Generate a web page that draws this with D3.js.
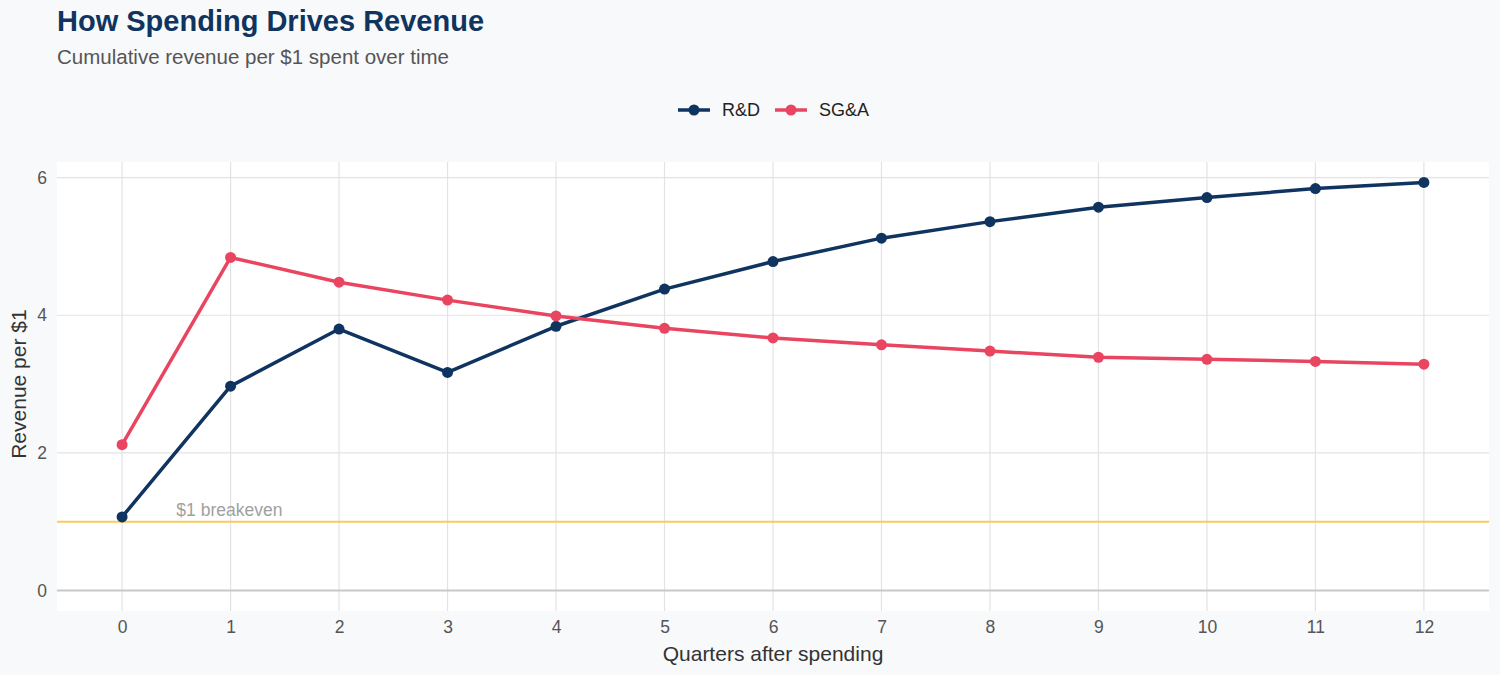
<!DOCTYPE html>
<html>
<head>
<meta charset="utf-8">
<script src="https://cdn.jsdelivr.net/npm/d3@7"></script>
<style>
  body { margin: 0; background: #f8f9fb; font-family: "Liberation Sans", Arial, sans-serif; }
</style>
</head>
<body>
<div id="chart"></div>
<script>
// data
var quarters = [0, 1, 2, 3, 4, 5, 6, 7, 8, 9, 10, 11, 12];
var rdValues = [1.07, 2.97, 3.80, 3.17, 3.84, 4.38, 4.78, 5.12, 5.36, 5.57, 5.71, 5.84, 5.93];
var sgaValues = [2.12, 4.84, 4.48, 4.22, 3.99, 3.81, 3.67, 3.57, 3.48, 3.39, 3.36, 3.33, 3.29];
var seriesNames = ["R&D", "SG&A"];
var seriesColors = ["#0f3460", "#e94560"];
var yTicks = [0, 2, 4, 6];
var breakeven = 1;

var width = 1500, height = 675;
var panel = { left: 57, right: 1489, top: 162, bottom: 611 };
var font = "Liberation Sans, Arial, sans-serif";

var svg = d3.select("#chart").append("svg")
    .attr("width", width)
    .attr("height", height)
    .attr("font-family", font);

svg.append("rect").attr("width", width).attr("height", height).attr("fill", "#f8f9fb");

// scales, with ggplot style 5% padding
var yMax = d3.max(rdValues.concat(sgaValues));
var yPad = yMax * 0.05;
var x = d3.scaleLinear().domain([-0.6, 12.6]).range([panel.left, panel.right]);
var y = d3.scaleLinear().domain([-yPad, yMax + yPad]).range([panel.bottom, panel.top]);

svg.append("rect")
    .attr("x", panel.left).attr("y", panel.top)
    .attr("width", panel.right - panel.left)
    .attr("height", panel.bottom - panel.top)
    .attr("fill", "#ffffff");

// grid
var grid = svg.append("g");
grid.selectAll(".vg").data(quarters).enter().append("line")
    .attr("x1", function (d) { return x(d); }).attr("x2", function (d) { return x(d); })
    .attr("y1", panel.top).attr("y2", panel.bottom)
    .attr("stroke", "#e3e3e3").attr("stroke-width", 1.2);
grid.selectAll(".hg").data(yTicks).enter().append("line")
    .attr("x1", panel.left).attr("x2", panel.right)
    .attr("y1", function (d) { return y(d); }).attr("y2", function (d) { return y(d); })
    .attr("stroke", function (d) { return d === 0 ? "#c8c8c8" : "#e3e3e3"; })
    .attr("stroke-width", function (d) { return d === 0 ? 2 : 1.2; });

// breakeven line
svg.append("line")
    .attr("x1", panel.left).attr("x2", panel.right)
    .attr("y1", y(breakeven)).attr("y2", y(breakeven))
    .attr("stroke", "#f7cc5e").attr("stroke-width", 2);
svg.append("text")
    .attr("x", x(0.5)).attr("y", y(breakeven) - 6)
    .attr("fill", "#a0a0a0").attr("font-size", 17.5)
    .text("$1 breakeven");

// axes text
var xAxis = d3.axisBottom(x).tickValues(quarters).tickSize(0).tickPadding(10);
var gx = svg.append("g").attr("transform", "translate(0," + panel.bottom + ")").call(xAxis);
gx.select(".domain").remove();
gx.attr("font-family", font).attr("font-size", 17.5);
gx.selectAll("text").attr("fill", "#555");

var yAxis = d3.axisLeft(y).tickValues(yTicks).tickFormat(d3.format("d")).tickSize(0).tickPadding(10);
var gy = svg.append("g").attr("transform", "translate(" + panel.left + ",0)").call(yAxis);
gy.select(".domain").remove();
gy.attr("font-family", font).attr("font-size", 17.5);
gy.selectAll("text").attr("fill", "#555");

svg.append("text")
    .attr("x", (panel.left + panel.right) / 2).attr("y", 661)
    .attr("text-anchor", "middle").attr("fill", "#333").attr("font-size", 21)
    .text("Quarters after spending");
svg.append("text")
    .attr("transform", "translate(26," + y(3) + ") rotate(-90)")
    .attr("text-anchor", "middle").attr("fill", "#333").attr("font-size", 21)
    .text("Revenue per $1");

// series
var series = [rdValues, sgaValues];
var line = d3.line()
    .x(function (d, i) { return x(quarters[i]); })
    .y(function (d) { return y(d); });

series.forEach(function (vals, s) {
    svg.append("path")
        .datum(vals)
        .attr("d", line)
        .attr("fill", "none")
        .attr("stroke", seriesColors[s])
        .attr("stroke-width", 3.5)
        .attr("stroke-linejoin", "round");
    svg.selectAll(".pt" + s).data(vals).enter().append("circle")
        .attr("cx", function (d, i) { return x(quarters[i]); })
        .attr("cy", function (d) { return y(d); })
        .attr("r", 5.5)
        .attr("fill", seriesColors[s]);
});

// legend
var legendX = [678, 775];
var legend = svg.append("g");
seriesNames.forEach(function (name, s) {
    var lx = legendX[s];
    legend.append("line")
        .attr("x1", lx).attr("x2", lx + 32)
        .attr("y1", 110).attr("y2", 110)
        .attr("stroke", seriesColors[s]).attr("stroke-width", 3.5);
    legend.append("circle")
        .attr("cx", lx + 16).attr("cy", 110).attr("r", 5.5)
        .attr("fill", seriesColors[s]);
    legend.append("text")
        .attr("x", lx + 44).attr("y", 116)
        .attr("fill", "#222").attr("font-size", 18)
        .text(name);
});

// titles
svg.append("text")
    .attr("x", 57).attr("y", 31)
    .attr("fill", "#0f3460").attr("font-size", 29).attr("font-weight", "bold")
    .text("How Spending Drives Revenue");
svg.append("text")
    .attr("x", 57).attr("y", 64)
    .attr("fill", "#555").attr("font-size", 20.5)
    .text("Cumulative revenue per $1 spent over time");
</script>
</body>
</html>
